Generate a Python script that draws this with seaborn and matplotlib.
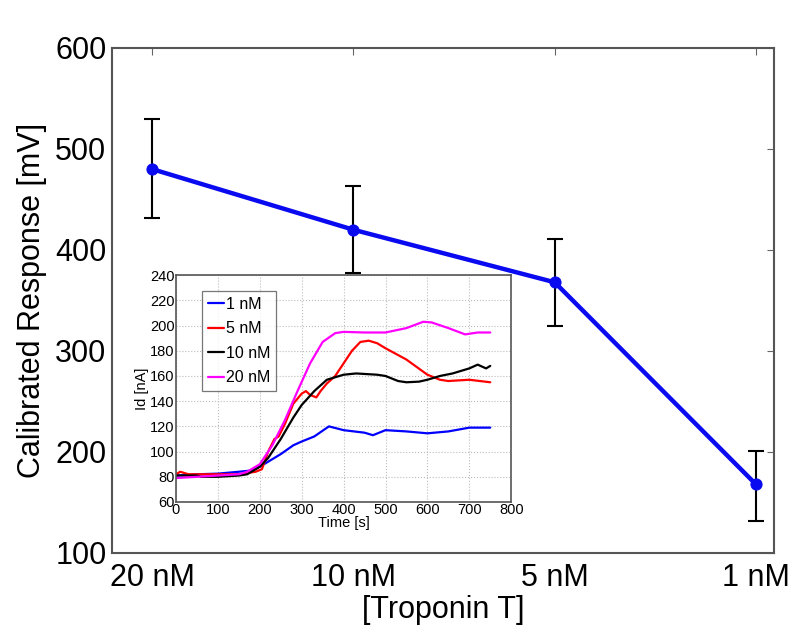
import numpy as np
import pandas as pd
import matplotlib
matplotlib.use("Agg")
import matplotlib.pyplot as plt
import seaborn as sns

# main calibration data
concentracoes = ["20 nM", "10 nM", "5 nM", "1 nM"]
resposta = [480, 420, 368, 168]
erro_sup = [530, 463, 411, 201]
erro_inf = [432, 377, 325, 132]

# inset time traces
t_azul = [0, 50, 100, 150, 180, 200, 250, 280, 300, 330, 365, 400, 450, 470, 500, 550, 600, 650, 700, 750]
id_azul = [81, 82, 82.5, 84, 85, 88, 98, 105, 108, 112, 120, 117, 115, 113, 117, 116, 114.5, 116, 119, 119]

t_verm = [0, 10, 30, 50, 100, 150, 190, 205, 220, 235, 245, 260, 280, 300, 310, 320, 335, 345, 360, 380,
          400, 420, 440, 460, 480, 500, 550, 600, 630, 650, 700, 750]
id_verm = [82, 84, 82, 82, 82, 82, 84, 86, 100, 110, 112, 122, 138, 146, 148, 145, 143, 148, 154, 160,
           170, 180, 187, 188, 186, 182, 173, 161, 157, 156, 157, 155]

t_preto = [0, 50, 60, 100, 150, 170, 200, 220, 250, 280, 300, 330, 360, 400, 430, 480, 500, 530, 550, 580,
           600, 630, 660, 700, 720, 740, 750]
id_preto = [81, 81, 80, 80, 81, 82, 88, 95, 110, 127, 137, 148, 157, 161, 162, 161, 160, 156, 155, 155.5,
            157, 160, 162, 166, 169, 166, 168]

t_mag = [0, 50, 100, 150, 170, 200, 230, 260, 290, 320, 350, 380, 400, 450, 500, 550, 590, 610, 650, 690, 720, 750]
id_mag = [79, 80, 81, 82, 84, 90, 105, 125, 148, 170, 187, 194, 195, 194.5, 194.5, 198, 203, 202.5, 198, 193, 194.5, 194.5]

sns.set_style("white")
plt.rcParams['font.family'] = ['Liberation Sans', 'DejaVu Sans']
plt.rcParams['text.color'] = 'black'
plt.rcParams['axes.labelcolor'] = 'black'
plt.rcParams['xtick.color'] = 'black'
plt.rcParams['ytick.color'] = 'black'

df_main = pd.DataFrame({'pos': np.arange(len(concentracoes)), 'resposta': resposta})

fig = plt.figure(figsize=(8, 6.39), dpi=100)
ax = fig.add_axes([0.14, 0.1346, 0.8275, 0.7904])

yerr = [np.array(resposta) - np.array(erro_inf), np.array(erro_sup) - np.array(resposta)]
ax.errorbar(df_main['pos'], df_main['resposta'], yerr=yerr, fmt='none', ecolor='black',
            elinewidth=1.5, capsize=6, capthick=1.5, zorder=2)
sns.lineplot(data=df_main, x='pos', y='resposta', ax=ax, color='#0a0af0', linewidth=3.2,
             marker='o', markersize=8, markeredgecolor='#0a0af0', zorder=3)

ax.set_xlim(-0.2, 3.09)
ax.set_ylim(100, 600)
ax.set_xticks(df_main['pos'])
ax.set_xticklabels(concentracoes)
ax.set_yticks(range(100, 601, 100))
ax.tick_params(axis='both', direction='in', length=5, labelsize=22, color='#666666',
               top=True, right=True)
ax.tick_params(axis='x', pad=7)
ax.tick_params(axis='y', pad=4)
ax.set_xlabel('[Troponin T]', fontsize=22, labelpad=2)
ax.set_ylabel('Calibrated Response [mV]', fontsize=22, labelpad=6)
for s in ax.spines.values():
    s.set_color('#555555')
    s.set_linewidth(1.5)

# inset
axi = fig.add_axes([0.22, 0.2144, 0.419, 0.355])
trechos = [
    ('1 nM', t_azul, id_azul),
    ('5 nM', t_verm, id_verm),
    ('10 nM', t_preto, id_preto),
    ('20 nM', t_mag, id_mag),
]
df_in = pd.concat([pd.DataFrame({'tempo': t, 'id': v, 'conc': nome}) for nome, t, v in trechos],
                  ignore_index=True)
sns.lineplot(data=df_in, x='tempo', y='id', hue='conc', ax=axi, linewidth=1.6,
             palette={'1 nM': '#0000ff', '5 nM': '#ff0000', '10 nM': '#000000', '20 nM': '#ff00ff'})
axi.set_xlim(0, 800)
axi.set_ylim(60, 240)
axi.set_xticks(range(0, 801, 100))
axi.set_yticks(range(60, 241, 20))
axi.grid(True, linestyle=':', color='#bbbbbb', linewidth=0.8)
axi.tick_params(axis='both', direction='in', length=3, labelsize=10.5, pad=1)
axi.set_xlabel('Time [s]', fontsize=10.5, labelpad=-1)
axi.set_ylabel('Id [nA]', fontsize=10.5, labelpad=1)
for s in axi.spines.values():
    s.set_color('#555555')
    s.set_linewidth(1.2)
leg = axi.legend(loc='upper left', bbox_to_anchor=(0.078, 0.93), borderaxespad=0, fontsize=11.5,
                 frameon=True, fancybox=False, edgecolor='#555555', handlelength=1.0,
                 handletextpad=0.15, borderpad=0.35, labelspacing=0.6)
leg.get_frame().set_linewidth(0.9)

fig.savefig('out.png', dpi=100)
